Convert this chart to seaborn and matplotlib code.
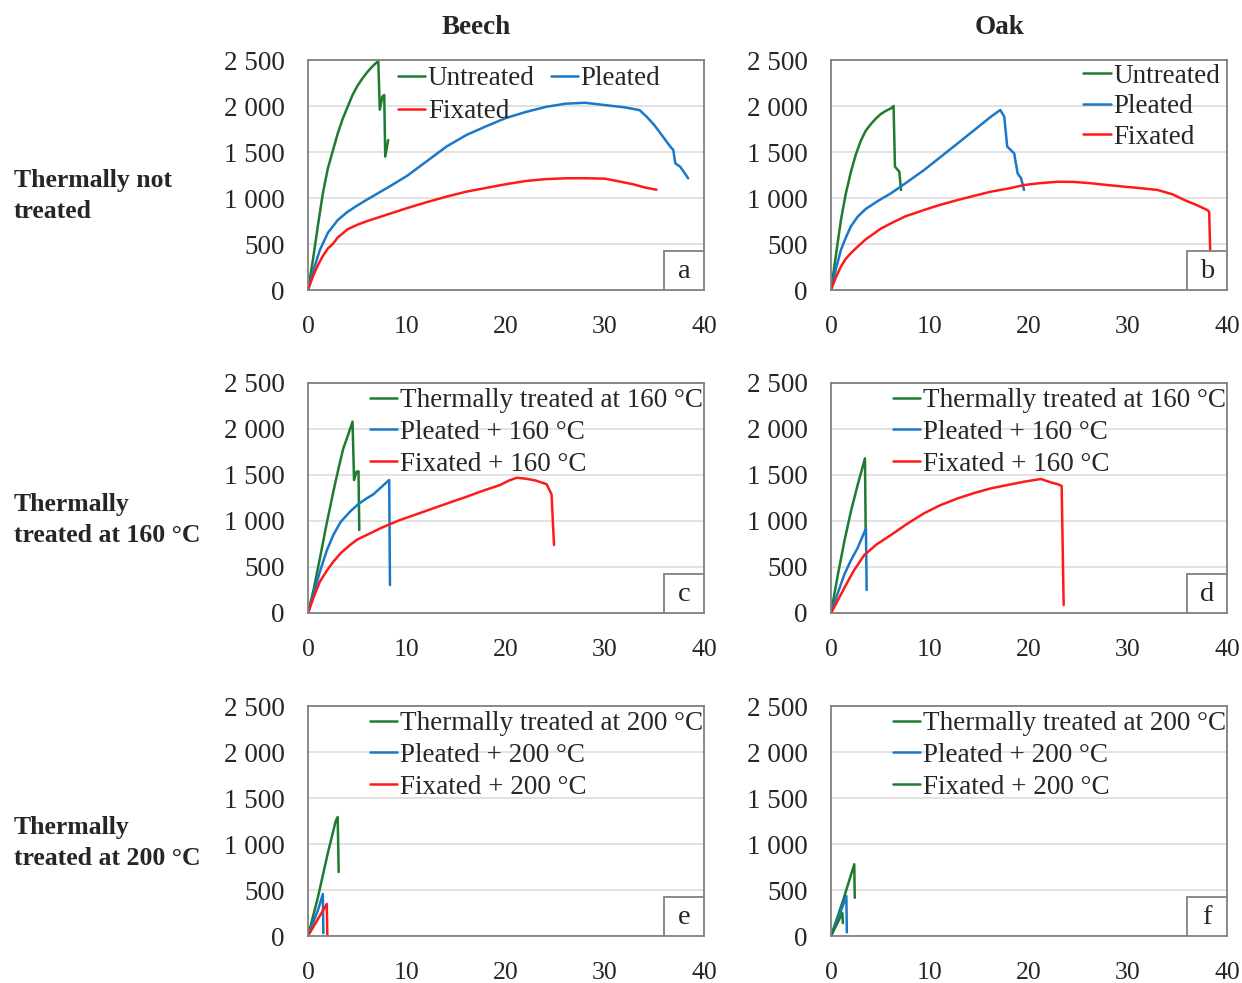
"""
Force-deflection curves of beech and oak, untreated vs pleated vs fixated,
with and without thermal treatment (160 / 200 °C). Six panels a-f.
"""

import matplotlib.pyplot as plt
import matplotlib.ticker as mticker
from matplotlib.patches import Rectangle
import seaborn as sns

sns.set_theme(style="white")
plt.rcParams["font.family"] = ["Liberation Serif", "DejaVu Serif"]

GREEN = "#1e7b30"
BLUE = "#1a78c8"
RED = "#ff1a1a"

# ---------------------------------------------------------------------------
# Data (deflection, force)
# ---------------------------------------------------------------------------

# a - beech, thermally not treated
a_untreated_x = [0, 0.5, 1.0, 1.5, 2.0, 2.5, 3.0, 3.5, 4.0, 4.5, 5.0, 5.5, 6.0, 6.5, 7.1,
                 7.25, 7.5, 7.7, 7.8, 8.1]
a_untreated_y = [0, 330, 700, 1050, 1320, 1510, 1700, 1860, 1990, 2120, 2220, 2300, 2370, 2430, 2490,
                 1960, 2100, 2120, 1450, 1630]
a_pleated_x = [0, 0.5, 1.2, 2.0, 3.0, 4.0, 5.0, 6.0, 8, 10, 12, 14, 16, 18, 20, 22, 24, 26, 28,
               30, 32, 33.5, 34.2, 35, 35.6, 36.6, 36.9, 37.1, 37.6, 38.4]
a_pleated_y = [0, 200, 435, 620, 760, 850, 920, 985, 1110, 1240, 1400, 1560, 1685, 1780, 1870,
               1935, 1990, 2025, 2035, 2010, 1985, 1955, 1884, 1790, 1703, 1558, 1522, 1377,
               1340, 1214]
a_fixated_x = [0, 0.5, 1, 1.5, 2, 2.5, 3, 4, 5, 6, 8, 10, 12, 14, 16, 18, 20, 22, 24, 26,
               28, 30, 31.2, 32.8, 34, 35.2]
a_fixated_y = [0, 150, 270, 370, 450, 500, 570, 660, 710, 750, 820, 890, 955, 1015, 1069,
               1110, 1150, 1185, 1205, 1214, 1215, 1210, 1185, 1150, 1115, 1090]

# b - oak, thermally not treated
b_untreated_x = [0, 0.5, 1, 1.5, 2, 2.5, 3, 3.5, 4, 4.5, 5, 5.5, 6.06, 6.32, 6.46, 6.9, 7.07]
b_untreated_y = [0, 380, 760, 1050, 1280, 1470, 1620, 1730, 1800, 1860, 1910, 1945, 1975,
                 2000, 1340, 1286, 1087]
b_pleated_x = [0, 0.5, 1, 1.5, 2, 2.69, 3.5, 4.37, 5, 6.06, 7.74, 9.4, 12.8, 16.16, 17.1,
               17.5, 17.8, 18.5, 18.85, 19.2, 19.5]
b_pleated_y = [0, 230, 435, 570, 690, 797, 880, 942, 985, 1051, 1177, 1304, 1594, 1884, 1957,
               1884, 1558, 1486, 1268, 1214, 1087]
b_fixated_x = [0, 0.5, 1, 1.5, 2, 2.69, 3.5, 4.37, 5, 6.06, 7.5, 9.4, 11, 12.8, 14.5, 16.16,
               18, 19.5, 21, 22.9, 24.5, 26.3, 28, 29.6, 31, 33, 34.5, 35.7, 37, 38, 38.2, 38.3]
b_fixated_y = [0, 140, 254, 340, 400, 471, 550, 616, 665, 725, 800, 870, 925, 978, 1025, 1069,
               1105, 1141, 1160, 1177, 1175, 1160, 1140, 1123, 1110, 1087, 1040, 978, 920,
               870, 850, 435]

# c - beech, 160 °C
c_untreated_x = [0, 0.6, 1.2, 1.9, 2.56, 3.1, 3.57, 4.0, 4.5, 4.65, 4.9, 5.1, 5.18]
c_untreated_y = [0, 270, 594, 980, 1319, 1580, 1790, 1920, 2080, 1446, 1536, 1540, 902]
c_pleated_x = [0, 0.6, 1.2, 1.9, 2.56, 3.3, 4.24, 5.1, 5.93, 6.6, 7.27, 8.2, 8.28]
c_pleated_y = [0, 220, 449, 680, 848, 990, 1101, 1185, 1246, 1290, 1355, 1446, 304]
c_fixated_x = [0, 0.6, 1.2, 1.9, 2.56, 3.3, 4.24, 5.0, 5.93, 7.5, 9.3, 11, 12.66, 14.3, 16.03,
               17.7, 19.4, 20.3, 21.1, 22, 23, 24.1, 24.6, 24.85]
c_fixated_y = [0, 180, 341, 460, 558, 650, 739, 800, 848, 930, 1011, 1075, 1138, 1200, 1264,
               1330, 1391, 1440, 1470, 1460, 1440, 1400, 1290, 740]

# d - oak, 160 °C
d_untreated_x = [0, 0.7, 1.34, 2.0, 2.69, 3.43, 3.5]
d_untreated_y = [0, 420, 775, 1100, 1391, 1681, 920]
d_pleated_x = [0, 0.7, 1.34, 2.0, 2.69, 3.53, 3.6]
d_pleated_y = [0, 220, 417, 570, 707, 920, 250]
d_fixated_x = [0, 0.7, 1.34, 2.3, 3.36, 4.6, 6.06, 7.7, 9.4, 11, 12.8, 14.5, 16.16, 18, 19.5,
               21.2, 22.2, 22.9, 23.3, 23.5]
d_fixated_y = [0, 140, 272, 460, 630, 745, 848, 970, 1084, 1170, 1246, 1305, 1355, 1395, 1427,
               1457, 1420, 1400, 1380, 87]

# e - beech, 200 °C
e_untreated_x = [0, 1.0, 2.0, 2.8, 3.0, 3.1]
e_untreated_y = [0, 420, 900, 1250, 1293, 696]
e_pleated_x = [0, 1.0, 1.5, 1.55]
e_pleated_y = [0, 280, 457, 30]
e_fixated_x = [0, 1.9, 1.95]
e_fixated_y = [0, 348, 0]

# f - oak, 200 °C
f_untreated_x = [0, 1.2, 2.35, 2.4]
f_untreated_y = [0, 380, 780, 415]
f_pleated_x = [0, 1.0, 1.55, 1.6]
f_pleated_y = [0, 270, 435, 40]
f_fixated_x = [0, 1.15, 1.2]
f_fixated_y = [0, 250, 140]

X_TICKS = [0, 10, 20, 30, 40]
Y_TICKS = [0, 500, 1000, 1500, 2000, 2500]

ROW_LABELS = ["Thermally not\ntreated", "Thermally\ntreated at 160 °C", "Thermally\ntreated at 200 °C"]
COL_TITLES = ["Beech", "Oak"]
PANEL_LETTERS = ["a", "b", "c", "d", "e", "f"]

LEGEND_ROW1 = ["Untreated", "Pleated", "Fixated"]
LEGEND_ROW2 = ["Thermally treated at 160 °C", "Pleated + 160 °C", "Fixated + 160 °C"]
LEGEND_ROW3 = ["Thermally treated at 200 °C", "Pleated + 200 °C", "Fixated + 200 °C"]

PANELS = [
    [(a_untreated_x, a_untreated_y), (a_pleated_x, a_pleated_y), (a_fixated_x, a_fixated_y)],
    [(b_untreated_x, b_untreated_y), (b_pleated_x, b_pleated_y), (b_fixated_x, b_fixated_y)],
    [(c_untreated_x, c_untreated_y), (c_pleated_x, c_pleated_y), (c_fixated_x, c_fixated_y)],
    [(d_untreated_x, d_untreated_y), (d_pleated_x, d_pleated_y), (d_fixated_x, d_fixated_y)],
    [(e_untreated_x, e_untreated_y), (e_pleated_x, e_pleated_y), (e_fixated_x, e_fixated_y)],
    [(f_untreated_x, f_untreated_y), (f_pleated_x, f_pleated_y), (f_fixated_x, f_fixated_y)],
]
LEGENDS = [LEGEND_ROW1, LEGEND_ROW1, LEGEND_ROW2, LEGEND_ROW2, LEGEND_ROW3, LEGEND_ROW3]
COLORS = [[GREEN, BLUE, RED]] * 5 + [[GREEN, BLUE, GREEN]]

FS = 19.5


def space_thousands(v, _pos):
    return f"{int(v):,}".replace(",", " ")


def style_axes(ax, letter):
    ax.set_xlim(0, 40)
    ax.set_ylim(0, 2500)
    ax.set_xticks(X_TICKS)
    ax.set_yticks(Y_TICKS)
    ax.yaxis.set_major_formatter(mticker.FuncFormatter(space_thousands))
    ax.tick_params(axis="both", length=0)
    ax.tick_params(axis="x", pad=19, labelsize=18.5)
    ax.tick_params(axis="y", pad=17, labelsize=FS)
    ax.grid(axis="y", color="#dddddd", linewidth=1.2)
    ax.grid(axis="x", visible=False)
    for sp in ax.spines.values():
        sp.set_color("#808080")
        sp.set_linewidth(1.3)
    ax.set_xlabel("")
    ax.set_ylabel("")
    # letter box in the bottom-right corner
    ax.add_patch(Rectangle((0.899, 0), 0.101, 0.17, transform=ax.transAxes,
                           facecolor="white", edgecolor="#808080", linewidth=1.3, zorder=5))
    ax.text(0.9495, 0.08, letter, transform=ax.transAxes, ha="center", va="center",
            fontsize=FS + 1, zorder=6)


def main() -> None:
    fig = plt.figure(figsize=(12.42, 9.83), dpi=100)

    lefts = [308 / 1242, 831 / 1242]
    bottoms = [1 - 290 / 983, 1 - 613 / 983, 1 - 936 / 983]
    w, h = 396 / 1242, 230 / 983

    for i in range(6):
        row, col = divmod(i, 2)
        ax = fig.add_axes([lefts[col], bottoms[row], w, h])
        for (xs, ys), label, color in zip(PANELS[i], LEGENDS[i], COLORS[i]):
            sns.lineplot(x=xs, y=ys, sort=False, estimator=None, ax=ax, color=color,
                         linewidth=1.8, label=label)
        style_axes(ax, PANEL_LETTERS[i])

        handles, labels = ax.get_legend_handles_labels()
        if i == 0:
            order = [0, 2, 1]
            ax.legend([handles[k] for k in order], [labels[k] for k in order], ncol=2,
                      loc="upper left", bbox_to_anchor=(0.2, 1.02), frameon=False,
                      fontsize=FS, handlelength=1.0, handletextpad=0.1,
                      columnspacing=0.6, labelspacing=0.3, borderaxespad=0)
        elif i == 1:
            ax.legend(handles, labels, loc="upper right", bbox_to_anchor=(1.01, 1.03),
                      frameon=False, fontsize=FS, handlelength=1.0, handletextpad=0.1,
                      labelspacing=0.2, borderaxespad=0)
        else:
            ax.legend(handles, labels, loc="upper right", bbox_to_anchor=(1.025, 1.025),
                      frameon=False, fontsize=FS, handlelength=1.0, handletextpad=0.1,
                      labelspacing=0.25, borderaxespad=0)

    for x_px, title in zip([476, 1000], COL_TITLES):
        fig.text(x_px / 1242, 1 - 28 / 983, title,
                 ha="center", va="center", fontsize=FS, fontweight="bold")

    for y_px, label in zip([196, 520, 843], ROW_LABELS):
        fig.text(14 / 1242, 1 - y_px / 983, label, ha="left", va="center",
                 fontsize=18.5, fontweight="bold", linespacing=1.4)

    fig.savefig("out.png", dpi=100)
    plt.close(fig)


if __name__ == "__main__":
    main()
